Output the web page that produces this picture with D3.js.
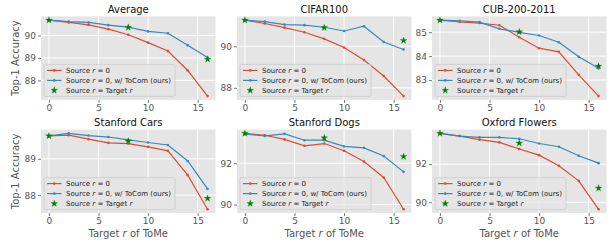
<!DOCTYPE html>
<html><head><meta charset="utf-8">
<script src="https://cdn.jsdelivr.net/npm/d3@7"></script>
<style>body{margin:0;background:#fff} svg text{font-family:"DejaVu Sans",sans-serif}</style>
</head><body><svg id="c" width="613" height="245"></svg>
<script>
const rValues = [0, 2, 4, 6, 8, 10, 12, 14, 16];
const starR = [0, 8, 16];
const xTicks = [0, 5, 10, 15];
const titles = ["Average", "CIFAR100", "CUB-200-2011", "Stanford Cars", "Stanford Dogs", "Oxford Flowers"];

const avgSource = [90.68, 90.58, 90.47, 90.28, 90.03, 89.68, 89.31, 88.44, 87.30];
const avgToCom  = [90.68, 90.62, 90.58, 90.46, 90.37, 90.18, 90.10, 89.56, 89.02];
const avgStar   = [90.68, 90.36, 88.94];
const avgTicks  = [88, 89, 90];

const cifarSource = [91.26, 91.10, 90.90, 90.68, 90.36, 89.94, 89.34, 88.57, 87.60];
const cifarToCom  = [91.26, 91.19, 91.05, 91.02, 90.92, 90.74, 90.97, 90.21, 89.85];
const cifarStar   = [91.26, 90.90, 90.28];
const cifarTicks  = [88, 90];

const cubSource = [85.50, 85.43, 85.38, 85.29, 84.79, 84.33, 84.18, 83.22, 82.33];
const cubToCom  = [85.50, 85.47, 85.42, 85.14, 84.99, 84.86, 84.58, 83.97, 83.49];
const cubStar   = [85.50, 85.01, 83.58];
const cubTicks  = [83, 84, 85];

const carsSource = [89.63, 89.65, 89.54, 89.44, 89.42, 89.33, 89.22, 88.55, 87.61];
const carsToCom  = [89.63, 89.70, 89.64, 89.60, 89.52, 89.45, 89.38, 88.94, 88.17];
const carsStar   = [89.63, 89.49, 87.91];
const carsTicks  = [88, 89];

const dogsSource = [93.44, 93.35, 93.15, 92.84, 92.95, 92.60, 92.08, 91.31, 89.77];
const dogsToCom  = [93.40, 93.32, 93.42, 93.11, 93.11, 92.81, 92.74, 92.35, 91.58];
const dogsStar   = [93.44, 93.22, 92.32];
const dogsTicks  = [90, 92];

const flowersSource = [93.61, 93.47, 93.28, 93.14, 92.79, 92.47, 91.91, 91.12, 89.63];
const flowersToCom  = [93.61, 93.47, 93.40, 93.40, 93.33, 93.08, 92.91, 92.44, 92.05];
const flowersStar   = [93.61, 93.10, 90.74];
const flowersTicks  = [90, 92];

const legendLabels = ["Source r = 0", "Source r = 0, w/ ToCom (ours)", "Source r = Target r"];

const panels = [
  [avgSource, avgToCom, avgStar, avgTicks],
  [cifarSource, cifarToCom, cifarStar, cifarTicks],
  [cubSource, cubToCom, cubStar, cubTicks],
  [carsSource, carsToCom, carsStar, carsTicks],
  [dogsSource, dogsToCom, dogsStar, dogsTicks],
  [flowersSource, flowersToCom, flowersStar, flowersTicks]
];

const RED = "#E24A33", BLUE = "#348ABD", GREEN = "#008000", BG = "#E5E5E5";
const colLeft = [41, 237, 432], colW = 174.5;
const rowTop = [16.4, 129.6], rowH = 83.5;

const svg = d3.select("#c");

function mathLabel(sel, parts) {
  parts.forEach(([t, it]) => {
    sel.append("tspan").text(t).attr("font-style", it ? "italic" : null);
  });
}
function legendParts(i) {
  if (i === 0) return [["Source ", false], ["r", true], [" = 0", false]];
  if (i === 1) return [["Source ", false], ["r", true], [" = 0, w/ ToCom (ours)", false]];
  return [["Source ", false], ["r", true], [" = Target ", false], ["r", true]];
}

panels.forEach((p, i) => {
  const [src, toc, star, ticks] = p;
  const col = i % 3, row = Math.floor(i / 3);
  const x0 = colLeft[col], y0 = rowTop[row];
  const g = svg.append("g").attr("transform", `translate(${x0},${y0})`);

  const x = d3.scaleLinear().domain([-0.8, 16.8]).range([0, colW]);
  const all = src.concat(toc, star);
  const lo = d3.min(all), hi = d3.max(all), m = (hi - lo) * 0.05;
  const y = d3.scaleLinear().domain([lo - m, hi + m]).range([rowH, 0]);

  g.append("rect").attr("width", colW).attr("height", rowH).attr("fill", BG);

  g.selectAll(".gx").data(xTicks).enter().append("line")
    .attr("x1", d => x(d)).attr("x2", d => x(d)).attr("y1", 0).attr("y2", rowH)
    .attr("stroke", "#fff").attr("stroke-width", 1);
  g.selectAll(".gy").data(ticks).enter().append("line")
    .attr("y1", d => y(d)).attr("y2", d => y(d)).attr("x1", 0).attr("x2", colW)
    .attr("stroke", "#fff").attr("stroke-width", 1);

  const xa = g.append("g").attr("transform", `translate(0,${rowH})`)
    .call(d3.axisBottom(x).tickValues(xTicks).tickSize(3).tickPadding(2).tickFormat(d3.format("d")));
  const ya = g.append("g")
    .call(d3.axisLeft(y).tickValues(ticks).tickSize(3).tickPadding(2).tickFormat(d3.format("d")));
  [xa, ya].forEach(a => {
    a.select(".domain").remove();
    a.selectAll("line").attr("stroke", "#555").attr("stroke-width", 0.8);
    a.selectAll("text").attr("fill", "#555").attr("font-size", 9)
      .attr("font-family", "DejaVu Sans, sans-serif");
  });

  const line = d3.line().x((d, k) => x(rValues[k])).y(d => y(d));
  [[src, RED], [toc, BLUE]].forEach(([s, c]) => {
    g.append("path").datum(s).attr("d", line).attr("fill", "none")
      .attr("stroke", c).attr("stroke-width", 1.2);
    g.selectAll(null).data(s).enter().append("circle")
      .attr("cx", (d, k) => x(rValues[k])).attr("cy", d => y(d)).attr("r", 1.3).attr("fill", c);
  });
  const starSym = d3.symbol().type(d3.symbolStar).size(14);
  g.selectAll(null).data(star).enter().append("path")
    .attr("d", starSym).attr("transform", (d, k) => `translate(${x(starR[k])},${y(d)})`)
    .attr("fill", GREEN).attr("stroke", GREEN).attr("stroke-width", 0.3);

  g.append("text").attr("x", colW / 2).attr("y", -3.5).attr("text-anchor", "middle")
    .attr("font-size", 10).attr("fill", "#111").text(titles[i]);

  const lg = g.append("g").attr("transform", `translate(3,${rowH - 35.5})`);
  const box = lg.append("rect").attr("width", 127).attr("height", 32).attr("rx", 1.5)
    .attr("fill", "#E5E5E5").attr("fill-opacity", 0.8).attr("stroke", "#ccc").attr("stroke-width", 0.8);
  let maxW = 0;
  legendLabels.forEach((lab, k) => {
    const cy = 6 + k * 10;
    if (k < 2) {
      const c = k === 0 ? RED : BLUE;
      lg.append("line").attr("x1", 3).attr("x2", 17.5).attr("y1", cy).attr("y2", cy)
        .attr("stroke", c).attr("stroke-width", 1.2);
      lg.append("circle").attr("cx", 10.25).attr("cy", cy).attr("r", 1.3).attr("fill", c);
    } else {
      lg.append("path").attr("d", starSym).attr("transform", `translate(10.25,${cy})`)
        .attr("fill", GREEN).attr("stroke", GREEN).attr("stroke-width", 0.3);
    }
    const t = lg.append("text").attr("x", 22).attr("y", cy + 2.5).attr("font-size", 7).attr("fill", "#222");
    mathLabel(t, legendParts(k));
    maxW = Math.max(maxW, t.node().getComputedTextLength());
  });
  box.attr("width", 22 + maxW + 4);

  if (col === 0) {
    g.append("text").attr("transform", `translate(${-22},${rowH / 2}) rotate(-90)`)
      .attr("text-anchor", "middle").attr("font-size", 10).attr("fill", "#555")
      .text("Top-1 Accuracy");
  }
  if (row === 1) {
    const t = g.append("text").attr("x", colW / 2).attr("y", rowH + 23.5)
      .attr("text-anchor", "middle").attr("font-size", 10).attr("fill", "#555");
    mathLabel(t, [["Target ", false], ["r", true], [" of ToMe", false]]);
  }
});
</script></body></html>
